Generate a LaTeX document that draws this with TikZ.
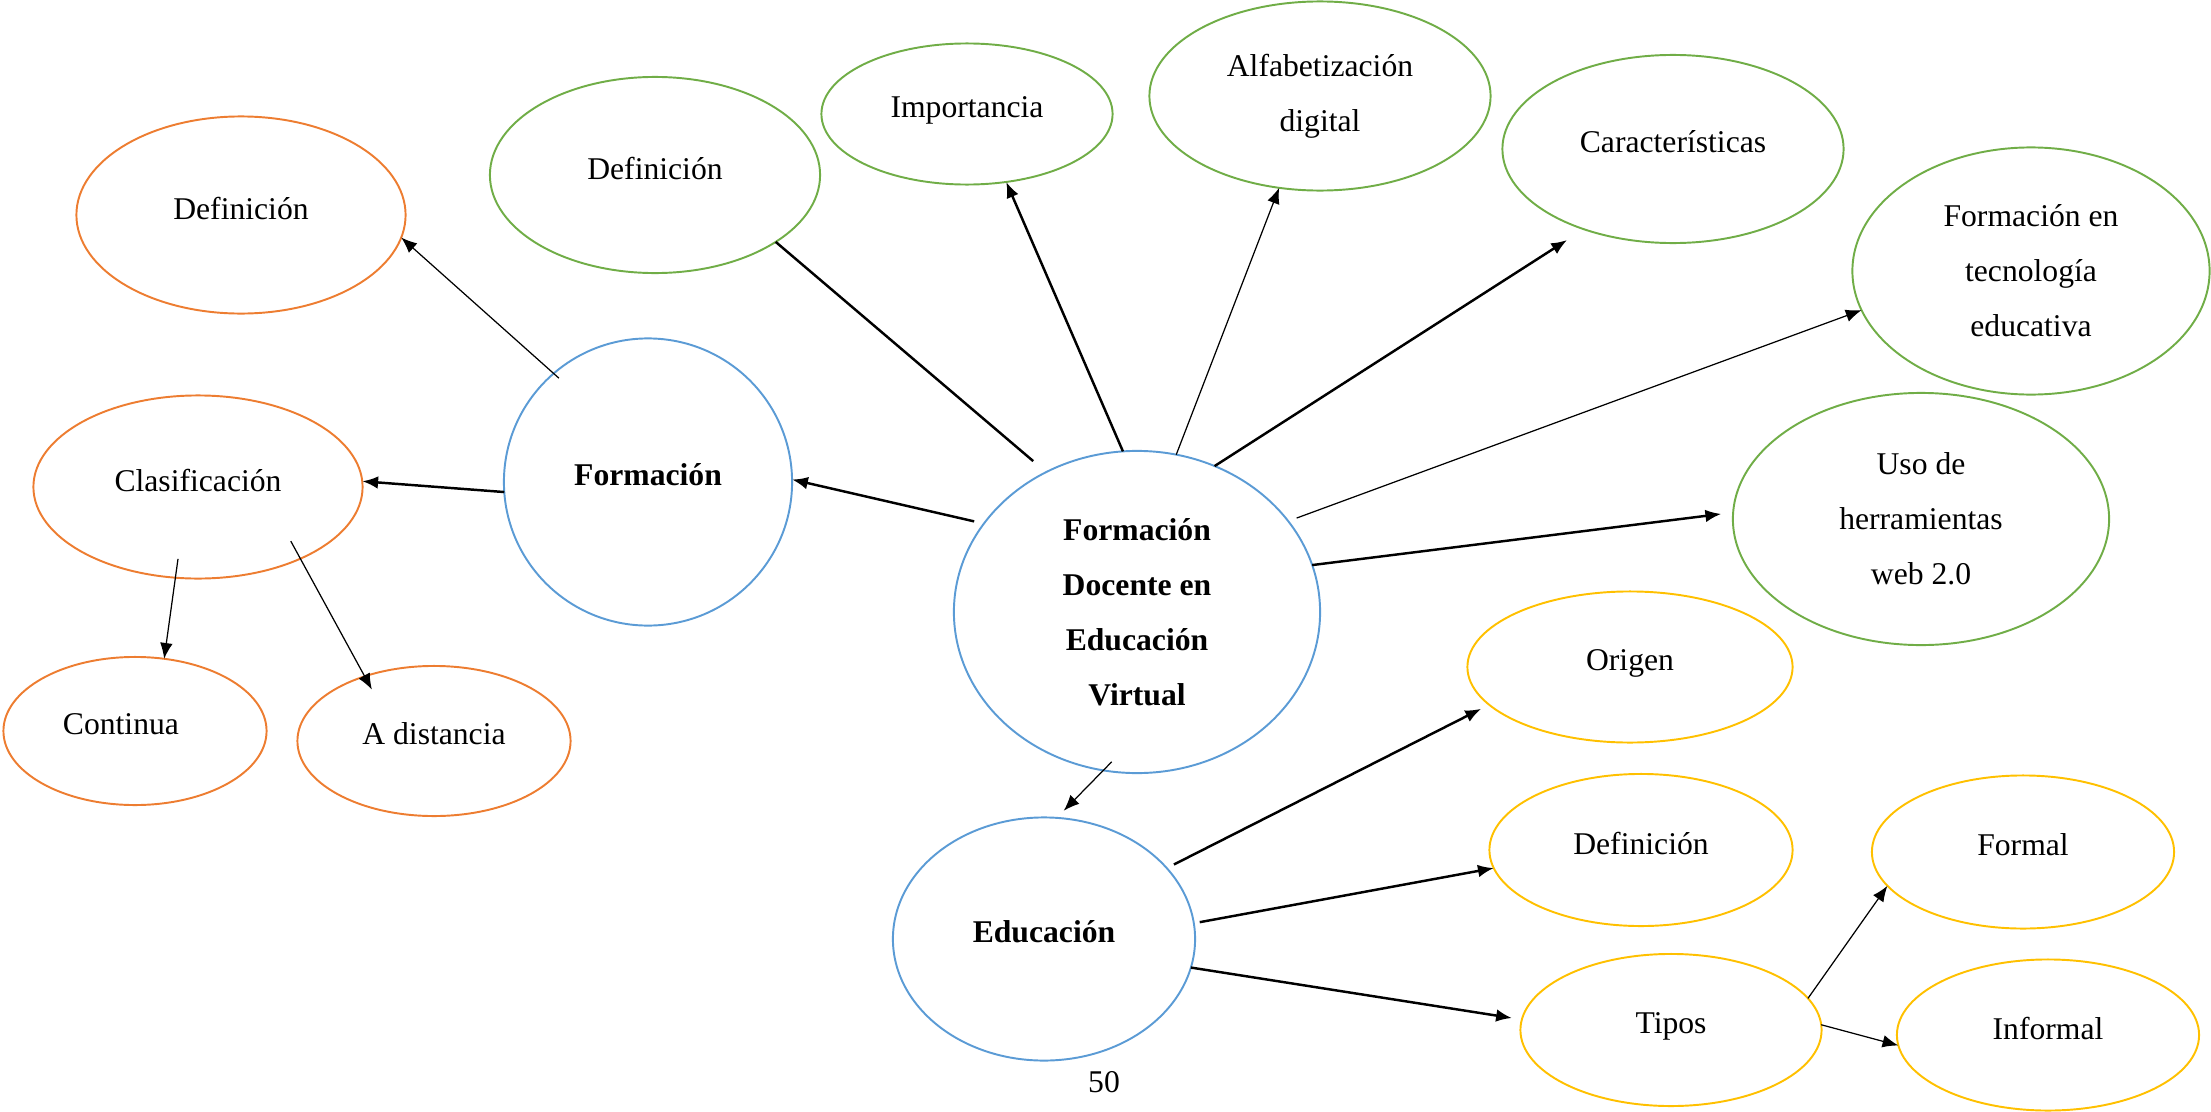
\documentclass[tikz,border=0pt]{standalone}
\usepackage{fontspec}
\setmainfont{Liberation Serif}
\usetikzlibrary{shapes.geometric,arrows.meta}
\definecolor{naranja}{HTML}{ED7D31}
\definecolor{verde}{HTML}{70AD47}
\definecolor{azul}{HTML}{5B9BD5}
\definecolor{amarillo}{HTML}{FFC000}
\begin{document}
\begin{tikzpicture}[x=0.01cm,y=-0.01cm,
	globo/.style={ellipse,draw,line width=0.55pt,inner sep=0pt,outer sep=0pt,align=center,font=\fontsize{9}{15.6}\selectfont},
	uno/.style={text depth=4pt},
	nar/.style={globo,uno,draw=naranja},
	ver/.style={globo,draw=verde},
	ama/.style={globo,uno,draw=amarillo},
	azu/.style={globo,draw=azul,font=\fontsize{9}{15.6}\selectfont\bfseries},
	fino/.style={-{Latex[length=4.5pt,width=3.6pt]},line width=0.35pt},
	grueso/.style={-{Latex[length=4.5pt,width=3.6pt]},line width=0.7pt}]
	\useasboundingbox (0,0) rectangle (2211,1112);
	% rama izquierda
	\node[nar,minimum width=3.29cm,minimum height=1.97cm] (defO) at (241,215) {Definición};
	\node[nar,minimum width=3.29cm,minimum height=1.83cm] (clas) at (198,487) {Clasificación};
	\node[nar,minimum width=2.63cm,minimum height=1.48cm] (cont) at (135,731) {Continua\kern8pt};
	\node[nar,minimum width=2.73cm,minimum height=1.50cm] (dist) at (434,741) {A distancia};
	\node[azu,uno,minimum width=2.88cm,minimum height=2.87cm] (form) at (648,482) {Formación};
	% rama superior
	\node[ver,uno,minimum width=3.30cm,minimum height=1.96cm] (defG) at (655,175) {Definición};
	\node[ver,uno,minimum width=2.91cm,minimum height=1.41cm] (imp) at (967,114) {Importancia};
	\node[ver,minimum width=3.41cm,minimum height=1.89cm] (alf) at (1320,96) {Alfabetización\\digital};
	\node[ver,uno,minimum width=3.41cm,minimum height=1.88cm] (car) at (1673,149) {Características};
	\node[ver,minimum width=3.57cm,minimum height=2.47cm] (ftec) at (2031,271) {Formación en\\tecnología\\educativa};
	\node[ver,minimum width=3.76cm,minimum height=2.52cm] (uso) at (1921,519) {Uso de\\herramientas\\web 2.0};
	% centro
	\node[azu,minimum width=3.66cm,minimum height=3.22cm] (fdev) at (1137,612) {Formación\\Docente en\\Educación\\Virtual};
	% rama inferior
	\node[azu,uno,minimum width=3.02cm,minimum height=2.43cm] (edu) at (1044,939) {Educación};
	\node[ama,minimum width=3.25cm,minimum height=1.51cm] (orig) at (1630,667) {Origen};
	\node[ama,minimum width=3.03cm,minimum height=1.52cm] (defY) at (1641,850) {Definición};
	\node[ama,minimum width=3.02cm,minimum height=1.53cm] (formal) at (2023,852) {Formal};
	\node[ama,minimum width=3.01cm,minimum height=1.52cm] (tipos) at (1671,1030) {Tipos};
	\node[ama,minimum width=3.02cm,minimum height=1.51cm] (informal) at (2048,1035) {Informal};
	\node[font=\fontsize{9}{11}\selectfont] (pag) at (1104,1082) {50};
	% flechas
	\draw[fino,shorten <=-0.07cm] (form.131) -- (defO.-8);
	\draw[grueso] (form.184) -- (clas.2);
	\draw[fino,shorten <=-0.19cm] (clas.256) -- (cont.68);
	\draw[fino,shorten <=-0.2cm,shorten >=-0.15cm] (clas.-35) -- (dist.137);
	\draw[grueso,shorten <=0.1cm] (fdev.150) -- (form.1);
	\draw[line width=0.7pt,shorten <=0.17cm] (fdev.123) -- (defG.-29);
	\draw[grueso] (fdev.95) -- (imp.-60);
	\draw[fino] (fdev.76) -- (alf.-114);
	\draw[grueso,shorten >=0.2cm] (fdev.62) -- (car.-138);
	\draw[fino,shorten <=0.09cm] (fdev.31) -- (ftec.193);
	\draw[grueso,shorten >=0.12cm] (fdev.15) -- (uso.178);
	\draw[fino,shorten <=-0.12cm,shorten >=0.1cm] (fdev.-102) -- (edu.84);
	\draw[grueso,shorten <=0.08cm,shorten >=0.09cm] (edu.30) -- (orig.195);
	\draw[grueso,shorten <=0.06cm] (edu.6) -- (defY.187);
	\draw[grueso,shorten >=0.1cm] (edu.-11) -- (tipos.176);
	\draw[fino] (tipos.13) -- (formal.194);
	\draw[fino] (tipos.2) -- (informal.184);
\end{tikzpicture}
\end{document}
